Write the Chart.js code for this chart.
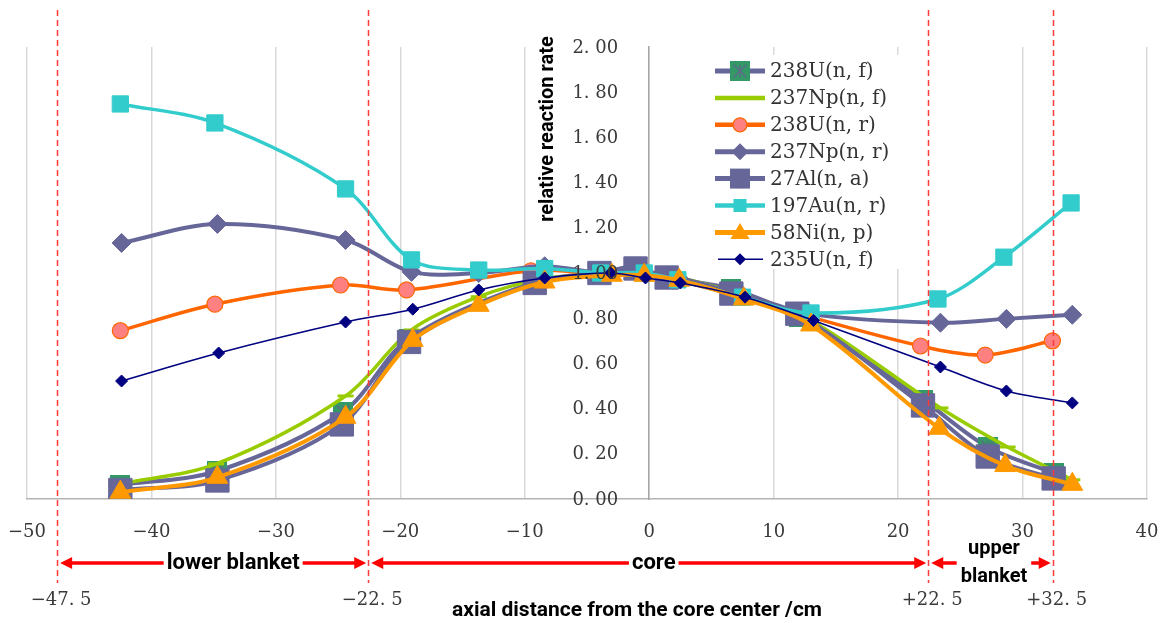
<!DOCTYPE html>
<html><head><meta charset="utf-8">
<script src="https://cdn.jsdelivr.net/npm/chart.js@4.4.1/dist/chart.umd.min.js"></script>
<style>html,body{margin:0;padding:0;background:#fff;}canvas{display:block;}</style>
</head><body>
<canvas id="c" width="1165" height="623"></canvas>
<script>
// ---------- data ----------
const seriesNames = ['238U(n, f)','237Np(n, f)','238U(n, r)','237Np(n, r)','27Al(n, a)','197Au(n, r)','58Ni(n, p)','235U(n, f)'];
const xTickValues = [-50,-40,-30,-20,-10,0,10,20,30,40];
const xTickLabels = ['−50','−40','−30','−20','−10','0','10','20','30','40'];
const yTickValues = [0,0.2,0.4,0.6,0.8,1.0,1.2,1.4,1.6,1.8,2.0];
const yTickLabels = ['0. 00','0. 20','0. 40','0. 60','0. 80','1. 00','1. 20','1. 40','1. 60','1. 80','2. 00'];
const boundaryValues = [-47.5,-22.5,22.5,32.5];
const boundaryLabels = ['−47. 5','−22. 5','+22. 5','+32. 5'];
const regionNames = [['lower blanket'],['core'],['upper','blanket']];
const xTitle = 'axial distance from the core center /cm';
const yTitle = 'relative reaction rate';

const u238f_x = [-42.5,-34.7,-24.6,-19.3,-9.2,-4.0,-1.1,1.4,6.6,12.0,22.0,27.2,32.5];
const u238f_y = [0.062,0.124,0.385,0.71,0.96,1.0,1.027,0.98,0.93,0.805,0.438,0.23,0.115];
const np237f_x = [-42.5,-34.8,-24.4,-19.1,-13.7,-8.4,-3.0,-0.4,2.4,7.6,13.0,23.4,28.8,34.0];
const np237f_y = [0.066,0.155,0.456,0.748,0.895,0.975,1.0,1.0,0.98,0.9,0.79,0.403,0.23,0.085];
const u238r_x = [-42.5,-34.9,-24.8,-19.5,-9.5,-4.0,-1.1,1.4,6.6,12.0,21.8,27.0,32.4];
const u238r_y = [0.745,0.862,0.947,0.925,1.01,1.0,1.01,0.99,0.91,0.82,0.677,0.637,0.70];
const np237r_x = [-42.4,-34.7,-24.4,-19.1,-13.7,-8.4,-3.9,-0.4,2.3,7.5,12.9,23.4,28.7,34.0];
const np237r_y = [1.133,1.217,1.146,1.005,1.0,1.03,1.0,1.0,0.98,0.9,0.818,0.78,0.797,0.815];
const al27_x = [-42.5,-34.7,-24.7,-19.3,-9.2,-4.0,-1.1,1.4,6.6,11.9,22.0,27.2,32.5];
const al27_y = [0.04,0.082,0.33,0.695,0.956,1.0,1.02,0.98,0.909,0.82,0.414,0.188,0.091];
const au197_x = [-42.5,-34.9,-24.4,-19.1,-13.7,-8.4,-3.9,-0.4,2.3,7.5,13.0,23.2,28.5,33.9];
const au197_y = [1.748,1.664,1.372,1.058,1.013,1.02,1.0,1.0,0.97,0.893,0.823,0.885,1.07,1.31];
const ni58_x = [-42.5,-34.7,-24.4,-19.0,-13.7,-8.4,-3.0,-0.4,2.4,7.6,13.0,23.3,28.6,34.0];
const ni58_y = [0.03,0.096,0.362,0.702,0.857,0.96,0.99,0.99,0.968,0.885,0.77,0.313,0.148,0.065];
const u235f_x = [-42.4,-34.6,-24.4,-19.0,-13.7,-8.4,-3.1,-0.3,2.5,7.7,13.2,23.4,28.7,34.0];
const u235f_y = [0.522,0.646,0.783,0.84,0.925,0.978,1.0,0.978,0.956,0.893,0.79,0.584,0.478,0.425];

// ---------- helpers ----------
const pts = (xs, ys) => xs.map((v, i) => ({x: v, y: ys[i]}));

function makeStarMarker(size) {
  const c = document.createElement('canvas');
  c.width = size; c.height = size;
  const g = c.getContext('2d');
  g.fillStyle = '#339966';
  g.fillRect(0, 0, size, size);
  g.strokeStyle = '#5b6f86';
  g.lineWidth = 1.5;
  const m = size / 2, r = size * 0.32;
  g.beginPath();
  g.moveTo(m, m - r); g.lineTo(m, m + r);
  g.moveTo(m - r, m - r); g.lineTo(m + r, m + r);
  g.moveTo(m + r, m - r); g.lineTo(m - r, m + r);
  g.stroke();
  return c;
}
const starMarker = makeStarMarker(20);
const starMarkerLegend = makeStarMarker(20);

const SLATE = '#666699';

const datasets = [
  {label: seriesNames[0], data: pts(u238f_x, u238f_y), borderColor: SLATE, borderWidth: 4,
   pointStyle: starMarker, pointRadius: 10, order: 8},
  {label: seriesNames[1], data: pts(np237f_x, np237f_y), borderColor: '#99CC00', borderWidth: 3.5,
   pointStyle: 'line', pointRadius: 8, pointBorderWidth: 3, pointBorderColor: '#99CC00', order: 7},
  {label: seriesNames[2], data: pts(u238r_x, u238r_y), borderColor: '#FF6600', borderWidth: 3.5,
   pointStyle: 'circle', pointRadius: 8, pointBackgroundColor: '#FF8080', pointBorderColor: '#FF6600', pointBorderWidth: 1.2, order: 6},
  {label: seriesNames[3], data: pts(np237r_x, np237r_y), borderColor: SLATE, borderWidth: 4,
   pointStyle: 'rectRot', pointRadius: 9.5, pointBackgroundColor: SLATE, pointBorderColor: SLATE, pointBorderWidth: 1, order: 5},
  {label: seriesNames[4], data: pts(al27_x, al27_y), borderColor: SLATE, borderWidth: 4,
   pointStyle: 'rect', pointRadius: 16.5, pointBackgroundColor: SLATE, pointBorderColor: SLATE, pointBorderWidth: 1, order: 4},
  {label: seriesNames[5], data: pts(au197_x, au197_y), borderColor: '#33CCCC', borderWidth: 3.5,
   pointStyle: 'rect', pointRadius: 11.5, pointBackgroundColor: '#33CCCC', pointBorderColor: '#33CCCC', pointBorderWidth: 1, order: 3},
  {label: seriesNames[6], data: pts(ni58_x, ni58_y), borderColor: '#FF9900', borderWidth: 4,
   pointStyle: 'triangle', pointRadius: 12, pointBackgroundColor: '#FF9900', pointBorderColor: '#FF9900', pointBorderWidth: 1, order: 2},
  {label: seriesNames[7], data: pts(u235f_x, u235f_y), borderColor: '#000080', borderWidth: 1.6,
   pointStyle: 'rectRot', pointRadius: 6, pointBackgroundColor: '#000080', pointBorderColor: '#000080', pointBorderWidth: 1, order: 1}
];
datasets.forEach(d => { d.showLine = true; d.tension = 0.32; d.fill = false; });

// legend drawing styles
const legendStyles = [
  {line: SLATE, lw: 5, mk: 'img'},
  {line: '#99CC00', lw: 4.5, mk: null},
  {line: '#FF6600', lw: 4.5, mk: 'circle', fill: '#FF8080', stroke: '#FF6600', r: 7},
  {line: SLATE, lw: 5, mk: 'diamond', fill: SLATE, r: 8.5},
  {line: SLATE, lw: 5, mk: 'square', fill: SLATE, s: 20},
  {line: '#33CCCC', lw: 4.5, mk: 'square', fill: '#33CCCC', s: 13},
  {line: '#FF9900', lw: 5, mk: 'triangle', fill: '#FF9900', r: 11},
  {line: '#000080', lw: 1.6, mk: 'diamond', fill: '#000080', r: 6}
];

function drawMarker(ctx, st, cx, cy) {
  ctx.save();
  ctx.fillStyle = st.fill; ctx.strokeStyle = st.stroke || st.fill;
  if (st.mk === 'img') {
    ctx.drawImage(starMarkerLegend, cx - 10, cy - 10);
  } else if (st.mk === 'circle') {
    ctx.beginPath(); ctx.arc(cx, cy, st.r, 0, Math.PI * 2); ctx.fill(); ctx.lineWidth = 1.2; ctx.stroke();
  } else if (st.mk === 'diamond') {
    ctx.beginPath(); ctx.moveTo(cx, cy - st.r); ctx.lineTo(cx + st.r, cy); ctx.lineTo(cx, cy + st.r); ctx.lineTo(cx - st.r, cy); ctx.closePath(); ctx.fill();
  } else if (st.mk === 'square') {
    ctx.fillRect(cx - st.s / 2, cy - st.s / 2, st.s, st.s);
  } else if (st.mk === 'triangle') {
    const r = st.r;
    ctx.beginPath(); ctx.moveTo(cx, cy - r * 0.85); ctx.lineTo(cx + r * 0.87, cy + r * 0.6); ctx.lineTo(cx - r * 0.87, cy + r * 0.6); ctx.closePath(); ctx.fill();
  }
  ctx.restore();
}

function arrowLine(ctx, x1, x2, yv) {
  const hl = 12, hw = 6;
  ctx.save();
  ctx.strokeStyle = '#FF0000'; ctx.fillStyle = '#FF0000'; ctx.lineWidth = 3.5;
  ctx.beginPath(); ctx.moveTo(x1 + hl - 1, yv); ctx.lineTo(x2 - hl + 1, yv); ctx.stroke();
  ctx.beginPath(); ctx.moveTo(x1, yv); ctx.lineTo(x1 + hl, yv - hw); ctx.lineTo(x1 + hl, yv + hw); ctx.closePath(); ctx.fill();
  ctx.beginPath(); ctx.moveTo(x2, yv); ctx.lineTo(x2 - hl, yv - hw); ctx.lineTo(x2 - hl, yv + hw); ctx.closePath(); ctx.fill();
  ctx.restore();
}

const decor = {
  id: 'decor',
  afterDatasetsDraw(chart) {
    const {ctx, scales: {x, y}} = chart;
    ctx.save();
    ctx.fillStyle = '#3a3a3a';
    ctx.font = '18px "DejaVu Serif"';
    ctx.textAlign = 'right'; ctx.textBaseline = 'middle';
    const x0 = x.getPixelForValue(0);
    yTickValues.forEach((v, i) => ctx.fillText(yTickLabels[i], x0 - 31, y.getPixelForValue(v) + 1));
    ctx.font = '18px "DejaVu Serif"'; ctx.textAlign = 'center';
    xTickValues.forEach((v, i) => ctx.fillText(xTickLabels[i], x.getPixelForValue(v), y.bottom + 33));
    ctx.restore();
  },
  afterDraw(chart) {
    const {ctx, scales: {x, y}} = chart;
    // legend
    ctx.save();
    ctx.fillStyle = '#ffffff';
    ctx.fillRect(700, 55, 206, 214);
    ctx.font = '20px "DejaVu Serif"';
    ctx.textAlign = 'left'; ctx.textBaseline = 'middle';
    seriesNames.forEach((name, i) => {
      const st = legendStyles[i];
      const cy = 71 + i * 26.9;
      ctx.strokeStyle = st.line; ctx.lineWidth = st.lw;
      ctx.beginPath(); ctx.moveTo(i === 7 ? 718 : 715, cy); ctx.lineTo(i === 7 ? 763 : 765, cy); ctx.stroke();
      if (st.mk) drawMarker(ctx, st, 740, cy);
      ctx.fillStyle = '#333333';
      ctx.fillText(name, 770, cy + 1);
    });
    ctx.restore();

    // red dashed boundary lines
    ctx.save();
    ctx.strokeStyle = '#FF3B3B'; ctx.lineWidth = 1.5; ctx.setLineDash([6, 4]);
    boundaryValues.forEach(v => {
      const px = Math.round(x.getPixelForValue(v)) - 0.5;
      ctx.beginPath(); ctx.moveTo(px, 10); ctx.lineTo(px, 583); ctx.stroke();
    });
    ctx.restore();

    // boundary labels
    ctx.save();
    ctx.fillStyle = '#3a3a3a'; ctx.font = '18px "DejaVu Serif"';
    ctx.textAlign = 'center'; ctx.textBaseline = 'middle';
    boundaryValues.forEach((v, i) => ctx.fillText(boundaryLabels[i], x.getPixelForValue(v) + 3, 600));
    ctx.restore();

    // region arrows + names
    const ay = 563;
    const offsets = [20, 5, 3];
    ctx.save();
    ctx.font = 'bold 22px Roboto';
    ctx.textAlign = 'center'; ctx.textBaseline = 'middle';
    for (let i = 0; i < 3; i++) {
      const a = x.getPixelForValue(boundaryValues[i]) + 2;
      const b = x.getPixelForValue(boundaryValues[i + 1]) - 3;
      arrowLine(ctx, a, b, ay);
      const cx = (a + b) / 2 + offsets[i];
      const lines = regionNames[i];
      if (lines.length === 1) {
        const w = ctx.measureText(lines[0]).width;
        ctx.fillStyle = '#fff'; ctx.fillRect(cx - w / 2 - 3, ay - 12, w + 6, 24);
        ctx.fillStyle = '#000'; ctx.fillText(lines[0], cx, ay);
      } else {
        ctx.font = 'bold 20px Roboto';
        const w = Math.max(...lines.map(t => ctx.measureText(t).width));
        ctx.fillStyle = '#fff'; ctx.fillRect(cx - w / 2 - 4, ay - 26, w + 8, 52);
        ctx.fillStyle = '#000';
        ctx.fillText(lines[0], cx, ay - 14);
        ctx.fillText(lines[1], cx, ay + 14);
      }
    }
    ctx.restore();

    // axis titles
    ctx.save();
    ctx.fillStyle = '#000'; ctx.font = 'bold 21px Roboto';
    ctx.textAlign = 'center'; ctx.textBaseline = 'middle';
    ctx.fillText(xTitle, 637, 611);
    ctx.translate(x.getPixelForValue(0) - 101, 129);
    ctx.rotate(-Math.PI / 2);
    ctx.font = 'bold 20px Roboto';
    ctx.fillText(yTitle, 0, 0);
    ctx.restore();
  }
};

new Chart(document.getElementById('c'), {
  type: 'scatter',
  data: {datasets},
  options: {
    responsive: false,
    animation: false,
    events: [],
    layout: {padding: {left: 27, right: 18, top: 47, bottom: 124}},
    plugins: {legend: {display: false}, tooltip: {enabled: false}},
    scales: {
      x: {type: 'linear', min: -50, max: 40, afterBuildTicks: s => { s.ticks = xTickValues.map(v => ({value: v})); },
          ticks: {display: false}, grid: {color: '#d9d9d9', lineWidth: 1.5, drawTicks: false},
          border: {color: '#b3b3b3', width: 1.5}},
      y: {type: 'linear', min: 0, max: 2, position: {x: 0},
          afterBuildTicks: s => { s.ticks = yTickValues.map(v => ({value: v})); },
          ticks: {display: false}, grid: {display: false, drawTicks: false},
          border: {color: '#a6a6a6', width: 1.5}}
    }
  },
  plugins: [decor]
});
</script>
</body></html>
